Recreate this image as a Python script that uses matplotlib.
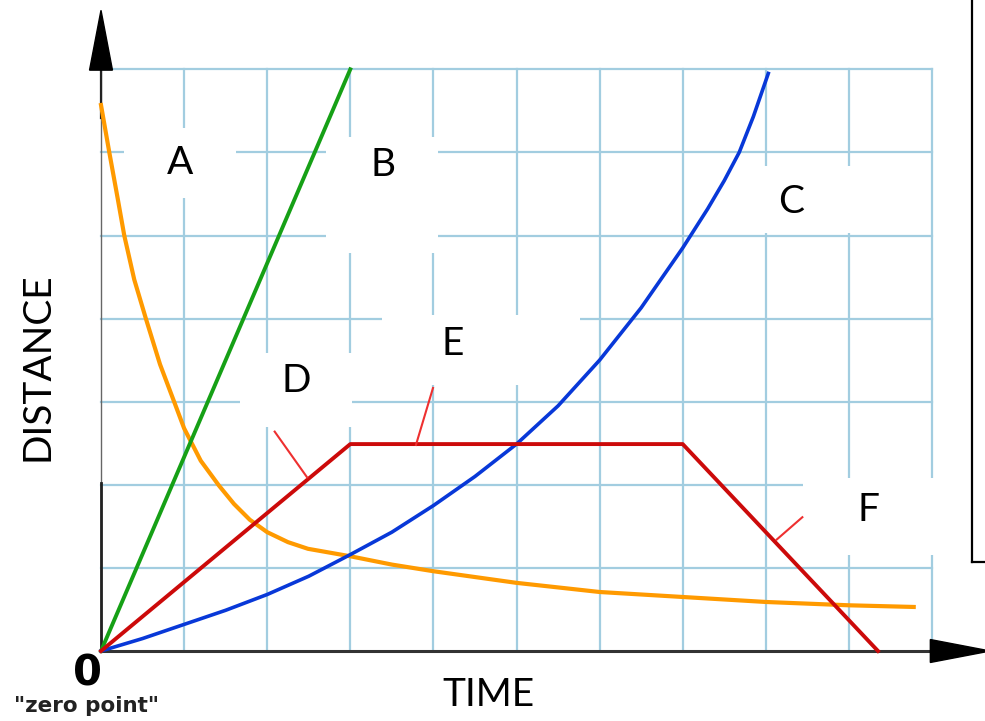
import matplotlib
matplotlib.use("Agg")
import matplotlib.pyplot as plt
from matplotlib.patches import Rectangle, Polygon

# data (grid units: 10 columns of time, 7 rows of distance)
green_x = [0, 3.0]
green_y = [0, 7.0]

red_x = [0, 3.0, 7.0, 9.35]
red_y = [0, 2.49, 2.49, 0]

blue_x = [0, 0.5, 1, 1.5, 2, 2.5, 3, 3.5, 4, 4.5, 5, 5.5, 6, 6.5, 7, 7.3, 7.5, 7.68, 7.85, 8.03]
blue_y = [0, 0.15, 0.32, 0.49, 0.68, 0.90, 1.16, 1.43, 1.75, 2.10, 2.49, 2.95, 3.50,
          4.13, 4.85, 5.32, 5.66, 6.0, 6.43, 6.95]

orange_x = [0, 0.10, 0.20, 0.28, 0.40, 0.54, 0.71, 0.88, 1.0, 1.2, 1.42, 1.6, 1.79,
            2.0, 2.25, 2.49, 3.0, 3.5, 4.0, 5.0, 6.0, 7.0, 8.0, 9.0, 9.78]
orange_y = [6.57, 6.0, 5.45, 5.0, 4.47, 4.0, 3.45, 3.0, 2.68, 2.29, 1.99, 1.77, 1.58,
            1.43, 1.31, 1.23, 1.14, 1.04, 0.96, 0.82, 0.71, 0.65, 0.59, 0.55, 0.53]

labels = ["A", "B", "C", "D", "E", "F"]
label_pos = [(0.95, 5.87), (3.39, 5.85), (8.3, 5.4), (2.35, 3.25), (4.23, 3.69), (9.23, 1.7)]
# white cover boxes: x0, x1, y0, y1
label_box = [(0.28, 1.62, 5.45, 6.29), (2.71, 4.06, 4.79, 6.19), (7.63, 9.13, 5.03, 5.84),
             (1.67, 3.02, 2.70, 3.59), (3.38, 5.76, 3.20, 4.04), (8.45, 10.1, 1.16, 2.08)]
# red pointer lines for D, E, F
pointers = [((2.09, 2.64), (2.48, 2.09)), ((3.995, 3.165), (3.79, 2.48)), ((8.44, 1.61), (8.13, 1.34))]

fig = plt.figure(figsize=(9.85, 7.21), dpi=100)
ax = fig.add_axes([0, 0, 1, 1])
ax.set_xlim(-101 / 83.1, 884 / 83.1)
ax.set_ylim(-70 / 83.1, 651 / 83.1)
ax.axis("off")

grid_c = "#a2cde0"
for gx in range(1, 11):
    ax.plot([gx, gx], [0, 7], color=grid_c, lw=1.6, zorder=1)
for gy in range(1, 8):
    ax.plot([0, 10], [gy, gy], color=grid_c, lw=1.6, zorder=1)

# white boxes behind the letters
for (x0, x1, y0, y1) in label_box:
    ax.add_patch(Rectangle((x0, y0), x1 - x0, y1 - y0, facecolor="white", edgecolor="none", zorder=2))

# axes with arrows
ax.plot([0, 0], [0, 7.0], color="#666666", lw=1.0, zorder=3)
ax.plot([0, 0], [0, 2.02], color="#222222", lw=2.0, zorder=3)
ax.plot([0, 0], [6.41, 7.0], color="#222222", lw=1.6, zorder=3)
ax.plot([0, 9.98], [0, 0], color="#333333", lw=2.2, zorder=3)
ax.add_patch(Polygon([(-0.138, 6.99), (0.138, 6.99), (0, 7.71)], closed=True, color="black", zorder=4))
ax.add_patch(Polygon([(9.98, -0.138), (9.98, 0.138), (10.7, 0)], closed=True, color="black", zorder=4))

ax.plot(orange_x, orange_y, color="#ff9a00", lw=3.0, solid_joinstyle="round", zorder=5)
ax.plot(green_x, green_y, color="#16a016", lw=2.8, zorder=6)
ax.plot(blue_x, blue_y, color="#0838d8", lw=2.6, solid_joinstyle="round", zorder=6)
ax.plot(red_x, red_y, color="#cc0a0a", lw=2.8, zorder=7)

for (p0, p1) in pointers:
    ax.plot([p0[0], p1[0]], [p0[1], p1[1]], color="#ee3030", lw=1.5, zorder=7)

for lab, (lx, ly) in zip(labels, label_pos):
    ax.text(lx, ly, lab, fontsize=28, family="Lato", ha="center", va="center", zorder=8)

ax.text(-0.77, 3.42, "DISTANCE", fontsize=28, family="Lato", rotation=90, ha="center", va="center")
ax.text(4.66, -0.53, "TIME", fontsize=28, family="Lato", ha="center", va="center")
ax.text(-0.16, -0.27, "0", fontsize=30, fontweight="bold", ha="center", va="center")
ax.text(-0.17, -0.66, '"zero point"', fontsize=15.5, fontweight="bold", color="#222222",
        ha="center", va="center")

# black frame at right edge
ax.plot([10.48, 10.48], [1.07, 8.0], color="black", lw=1.6, zorder=3)
ax.plot([10.48, 10.8], [1.07, 1.07], color="black", lw=1.6, zorder=3)

fig.savefig("out.png", dpi=100)
